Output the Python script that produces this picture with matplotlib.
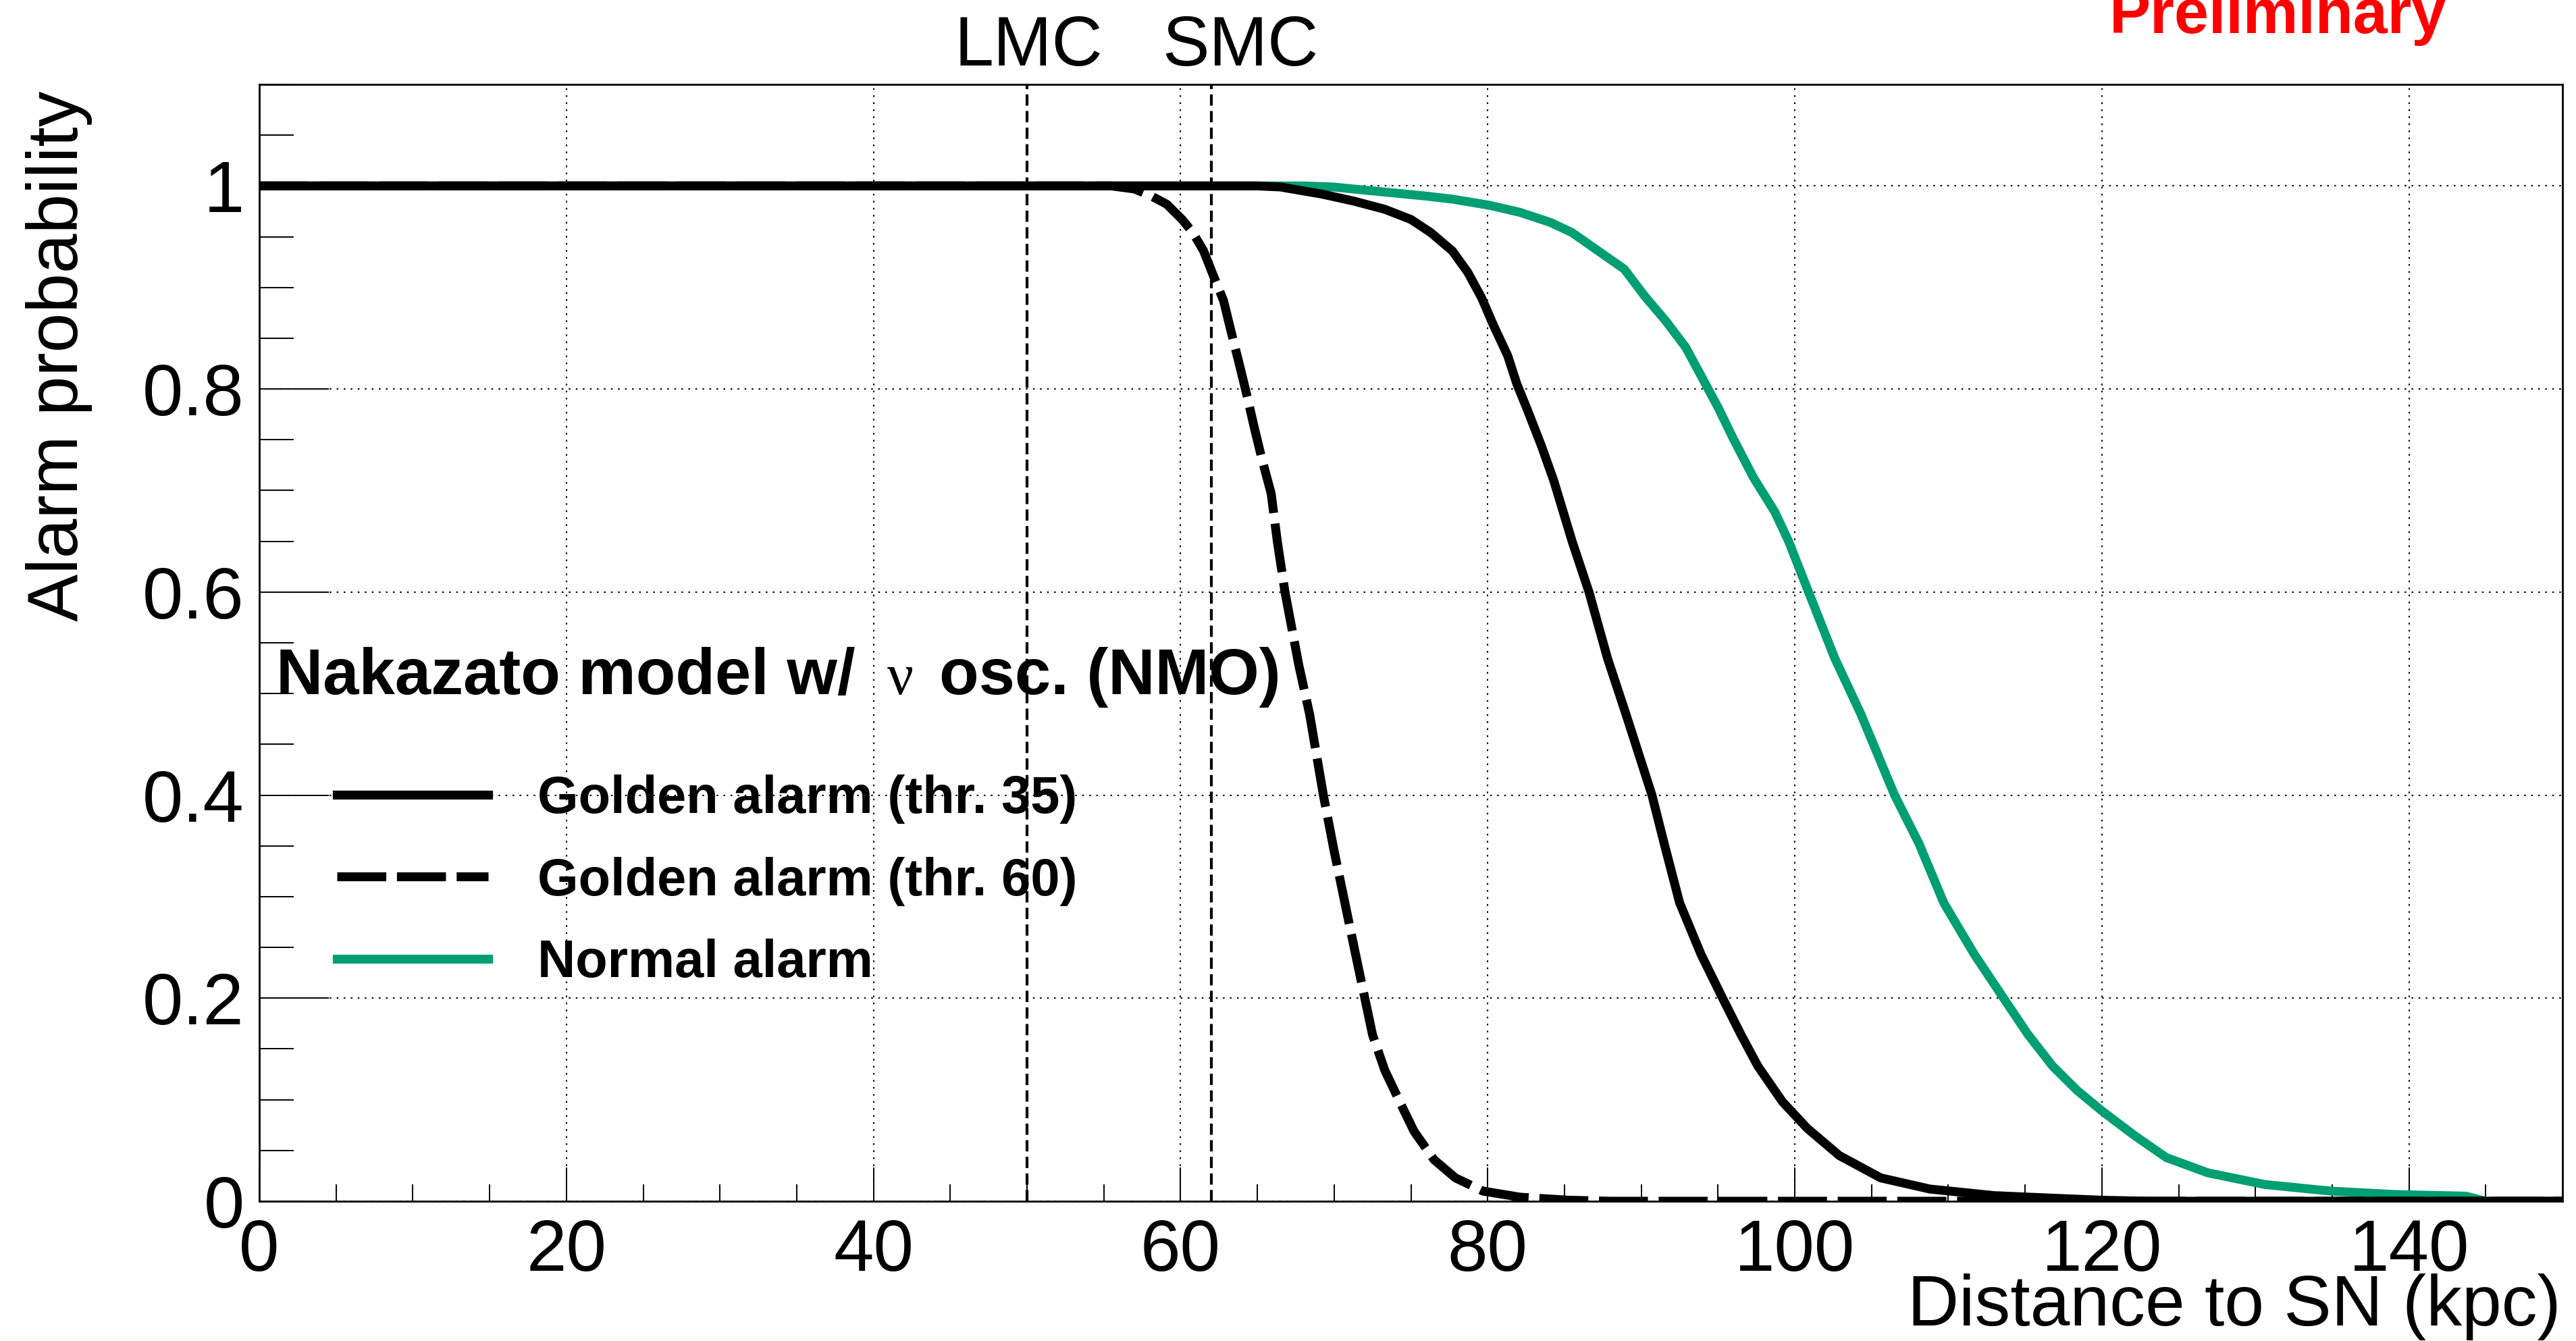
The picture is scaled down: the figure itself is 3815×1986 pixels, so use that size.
import matplotlib
matplotlib.use('Agg')
import matplotlib.pyplot as plt
from matplotlib.ticker import MultipleLocator, FixedLocator, FixedFormatter
from matplotlib.transforms import blended_transform_factory

plt.rcParams['font.family'] = ['Liberation Sans', 'DejaVu Sans']

# ---------------- data ----------------
dist_thr35 = [0, 65.0, 66.5, 69.2, 71.3, 73.3, 75.0, 76.3, 77.7, 78.7, 79.6, 80.4, 81.3,
              81.9, 82.6, 83.5, 84.3, 85.5, 86.6, 87.8, 89.0, 90.7, 91.5, 92.5, 93.9,
              95.3, 96.5, 97.6, 99.2, 100.8, 102.9, 105.6, 108.8, 113.0, 116.8, 120.0,
              123.0, 150.0]
prob_thr35 = [1, 1.0, 0.999, 0.992, 0.985, 0.977, 0.967, 0.954, 0.936, 0.915, 0.89, 0.862,
              0.833, 0.805, 0.779, 0.744, 0.71, 0.65, 0.6, 0.535, 0.48, 0.4, 0.352, 0.294,
              0.243, 0.2, 0.164, 0.133, 0.098, 0.072, 0.045, 0.023, 0.012, 0.0055, 0.003,
              0.001, 0.0, 0.0]

dist_thr60 = [0, 55.5, 57.0, 58.1, 59.1, 60.1, 60.8, 61.5, 62.1, 62.8, 63.3, 63.8, 64.3,
              64.8, 65.3, 65.9, 66.3, 66.8, 67.7, 68.4, 69.3, 70.0, 70.7, 71.4, 72.0,
              72.5, 73.3, 74.4, 75.2, 76.5, 77.9, 79.7, 82.1, 85.3, 88.0, 150.0]
prob_thr60 = [1, 1.0, 0.997, 0.99, 0.982, 0.967, 0.954, 0.936, 0.913, 0.887, 0.856, 0.826,
              0.795, 0.762, 0.731, 0.697, 0.65, 0.6, 0.528, 0.48, 0.40, 0.345, 0.294, 0.243,
              0.2, 0.164, 0.129, 0.094, 0.069, 0.041, 0.023, 0.01, 0.004, 0.001, 0.0, 0.0]

dist_normal = [0, 68.0, 69.9, 72.6, 76.0, 77.7, 80.1, 82.1, 84.1, 85.5, 87.2, 88.9, 90.2,
               91.6, 92.9, 93.9, 95.0, 96.0, 97.3, 98.7, 99.6, 100.9, 102.6, 104.3, 106.5,
               108.1, 109.7, 111.7, 113.6, 115.2, 116.8, 118.4, 120.0, 122.1, 124.2, 126.9,
               130.6, 134.9, 139.1, 143.7, 145.0, 150.0]
prob_normal = [1, 1.0, 0.999, 0.995, 0.99, 0.987, 0.981, 0.974, 0.964, 0.954, 0.936, 0.918,
               0.892, 0.867, 0.841, 0.813, 0.782, 0.751, 0.713, 0.679, 0.65, 0.6, 0.535,
               0.48, 0.4, 0.352, 0.294, 0.243, 0.2, 0.164, 0.133, 0.109, 0.089, 0.065,
               0.043, 0.028, 0.0165, 0.01, 0.0066, 0.005, 0.0, 0.0]

series_labels = ['Golden alarm (thr. 35)', 'Golden alarm (thr. 60)', 'Normal alarm']
galaxy_names = ['LMC', 'SMC']
galaxy_dist = [50.0, 62.0]

x_ticks = [0, 20, 40, 60, 80, 100, 120, 140]
x_tick_labels = ['0', '20', '40', '60', '80', '100', '120', '140']
y_ticks = [0, 0.2, 0.4, 0.6, 0.8, 1.0]
y_tick_labels = ['0', '0.2', '0.4', '0.6', '0.8', '1']

# ---------------- figure ----------------
W, H, DPI = 3815, 1986, 100
fig = plt.figure(figsize=(W / DPI, H / DPI), dpi=DPI)
fig.patch.set_facecolor('white')

def fx(px):
    return px / W

def fy(py):
    return 1 - py / H

ax = fig.add_axes([fx(384), fy(1779), (3795 - 384) / W, (1779 - 125) / H])
ax.set_xlim(0, 150)
ax.set_ylim(0, 1.1)

GREEN = '#009E73'
LW = 9.5

ax.grid(True, which='major', color='black', lw=1.5, linestyle=(0, (1.2, 3.8)))

for d in galaxy_dist:
    ax.axvline(d, color='black', lw=3.0, linestyle=(0, (4.0, 1.9)), zorder=1.8)

l_norm, = ax.plot(dist_normal, prob_normal, color=GREEN, lw=LW, zorder=3,
                  solid_joinstyle='miter')
l60, = ax.plot(dist_thr60, prob_thr60, color='black', lw=LW, zorder=4,
               linestyle=(0, (5.5, 1.2)), dash_capstyle='butt')
l35, = ax.plot(dist_thr35, prob_thr35, color='black', lw=LW, zorder=5,
               solid_joinstyle='miter')

# axes styling (ROOT-like)
for s in ax.spines.values():
    s.set_linewidth(2.0)
ax.xaxis.set_major_locator(FixedLocator(x_ticks))
ax.xaxis.set_major_formatter(FixedFormatter(x_tick_labels))
ax.yaxis.set_major_locator(FixedLocator(y_ticks))
ax.yaxis.set_major_formatter(FixedFormatter(y_tick_labels))
ax.xaxis.set_minor_locator(MultipleLocator(5))
ax.yaxis.set_minor_locator(MultipleLocator(0.05))
ax.tick_params(which='both', direction='in', top=False, right=False, width=1.4, color='black')
ax.tick_params(axis='y', which='major', length=74, labelsize=78, pad=16)
ax.tick_params(axis='y', which='minor', length=37)
ax.tick_params(axis='x', which='major', length=36, labelsize=77, pad=18)
ax.tick_params(axis='x', which='minor', length=18)

# axis titles
fig.text(fx(3793), fy(1963), 'Distance to SN (kpc)', ha='right', va='baseline', fontsize=76)
fig.text(fx(137), fy(134), 'Alarm probability', rotation=90, ha='right', va='top', fontsize=76)

# galaxy labels
trans = blended_transform_factory(ax.transData, fig.transFigure)
label_x = [50.1, 63.9]
for name, lx in zip(galaxy_names, label_x):
    ax.text(lx, fy(97), name, transform=trans, ha='center', va='baseline',
            fontsize=75, clip_on=False)

# Preliminary
fig.text(fx(3374), fy(49), 'Preliminary', color='red', weight='bold', ha='center',
         va='baseline', fontsize=66)

# legend header
fig.text(fx(409), fy(1028), 'Nakazato model w/', weight='bold', fontsize=69, va='baseline')
fig.text(fx(1314), fy(1028), '\u03bd', family=['Liberation Serif', 'DejaVu Serif'],
         fontsize=62, va='baseline')
fig.text(fx(1391), fy(1028), 'osc. (NMO)', weight='bold', fontsize=69, va='baseline')

leg = ax.legend([l35, l60, l_norm], series_labels, loc='center left',
                bbox_to_anchor=(fx(499), fy(1305)), bbox_transform=fig.transFigure,
                frameon=False, prop=dict(family='Liberation Sans', weight='bold', size=56),
                handlelength=2.88, handletextpad=0.94, labelspacing=0.62,
                borderpad=0, borderaxespad=0)

fig.savefig('out.png', dpi=DPI, facecolor='white')
